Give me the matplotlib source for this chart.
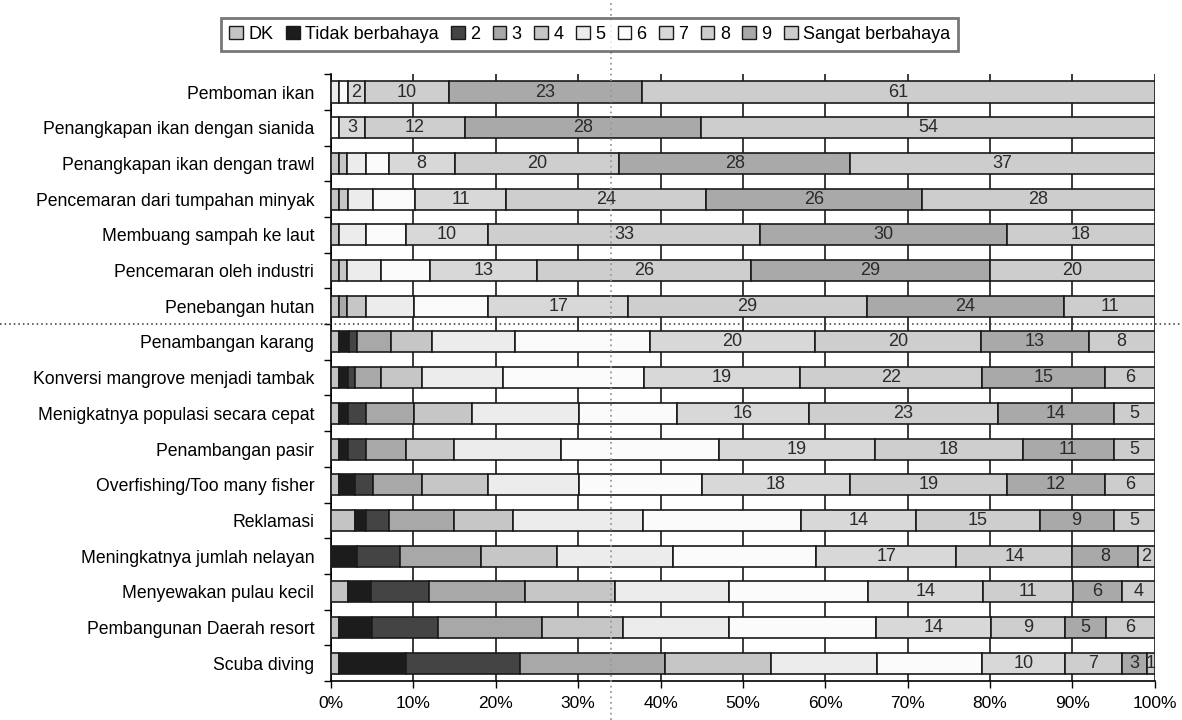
import matplotlib.pyplot as plt
import numpy as np
from matplotlib.lines import Line2D
from matplotlib.patches import Patch
import matplotlib.transforms as mtransforms

plt.rcParams['font.family'] = ['Liberation Sans', 'DejaVu Sans']

# Categories, top to bottom
categories = [
    'Pemboman ikan',
    'Penangkapan ikan dengan sianida',
    'Penangkapan ikan dengan trawl',
    'Pencemaran dari tumpahan minyak',
    'Membuang sampah ke laut',
    'Pencemaran oleh industri',
    'Penebangan hutan',
    'Penambangan karang',
    'Konversi mangrove menjadi tambak',
    'Menigkatnya populasi secara cepat',
    'Penambangan pasir',
    'Overfishing/Too many fisher',
    'Reklamasi',
    'Meningkatnya jumlah nelayan',
    'Menyewakan pulau kecil',
    'Pembangunan Daerah resort',
    'Scuba diving',
]

series_names = ['DK', 'Tidak berbahaya', '2', '3', '4', '5', '6', '7', '8', '9', 'Sangat berbahaya']

# Percent of respondents per answer
dk     = [0, 0, 1, 1, 1, 1, 1, 1, 1, 1, 1, 1, 2.9, 0, 2.1, 1, 1]
tidak  = [0, 0, 0, 0, 0, 0, 0, 1.2, 1.1, 1.1, 1.1, 1.9, 1.3, 3.1, 2.8, 4, 8.1]
s2     = [0, 0, 0, 0, 0, 0, 0, 0.9, 0.8, 2.1, 2.1, 2.2, 2.8, 5.2, 7.1, 8, 13.9]
s3     = [0, 0, 0, 0, 0, 0, 1, 4.1, 3.2, 5.9, 4.9, 5.9, 8, 9.9, 11.7, 12.7, 17.7]
s4     = [0, 0, 1, 1, 0, 1, 2.2, 5, 4.9, 7, 5.9, 8.1, 7.1, 9.1, 11, 9.9, 12.9]
s5     = [1, 0, 2.2, 3.1, 3.2, 4.1, 5.9, 10, 9.9, 13, 12.9, 11, 15.8, 14.1, 13.9, 13, 12.9]
s6     = [1, 1, 2.8, 5, 4.9, 5.9, 9, 16.3, 17, 11.9, 19.2, 14.9, 19.2, 17.3, 17, 17.9, 12.9]
s7     = [2, 3, 8, 11, 10, 13, 17, 20, 19, 16, 19, 18, 14, 17, 14, 14, 10]
s8     = [10, 12, 20, 24, 33, 26, 29, 20, 22, 23, 18, 19, 15, 14, 11, 9, 7]
s9     = [23, 28, 28, 26, 30, 29, 24, 13, 15, 14, 11, 12, 9, 8, 6, 5, 3]
sangat = [61, 54, 37, 28, 18, 20, 11, 8, 6, 5, 5, 6, 5, 2, 4, 6, 1]

all_series = [dk, tidak, s2, s3, s4, s5, s6, s7, s8, s9, sangat]
colors = ['#c4c4c4', '#1c1c1c', '#444444', '#a8a8a8', '#c6c6c6', '#ececec',
          '#fbfbfb', '#d8d8d8', '#cecece', '#a9a9a9', '#cdcdcd']
labelled = [False] * 7 + [True] * 4

data = np.array(all_series, dtype=float)
pct = data / data.sum(axis=0) * 100

fig = plt.figure(figsize=(11.82, 7.2), dpi=100)
ax = fig.add_axes([0.280, 0.054, 0.697, 0.843])

y = np.arange(len(categories))
left = np.zeros(len(categories))
for k in range(len(series_names)):
    ax.barh(y, pct[k], left=left, height=0.59, color=colors[k],
            edgecolor='#1a1a1a', linewidth=1.2, zorder=3)
    if labelled[k]:
        for i in range(len(categories)):
            if all_series[k][i] > 0:
                ax.text(left[i] + pct[k][i] / 2, y[i], str(int(all_series[k][i])),
                        ha='center', va='center', fontsize=13, color='#2a2a2a', zorder=4)
    left += pct[k]

ax.set_xlim(0, 100)
ax.set_ylim(len(categories) - 0.5, -0.5)
ax.set_xticks(np.arange(0, 101, 10))
ax.set_xticklabels([f'{v}%' for v in range(0, 101, 10)], fontsize=12.5)
ax.tick_params(axis='x', length=5, width=1, pad=6)
ax.set_yticks(y)
ax.set_yticklabels(categories, fontsize=12.7)
ax.tick_params(axis='y', length=0, pad=12)
ax.set_yticks(np.arange(-0.5, len(categories), 1), minor=True)
ax.tick_params(axis='y', which='minor', length=5, width=1)

ax.grid(axis='x', color='#1a1a1a', linewidth=1.2, zorder=0)
ax.set_axisbelow(True)
for s in ['top', 'right']:
    ax.spines[s].set_visible(False)
ax.spines['left'].set_linewidth(1.2)
ax.spines['bottom'].set_linewidth(1.2)

# dotted reference lines
trans_h = mtransforms.blended_transform_factory(fig.transFigure, ax.transData)
fig.add_artist(Line2D([0, 1], [6.5, 6.5], transform=trans_h, color='#333333',
                      linestyle=(0, (1, 2)), linewidth=1.1, zorder=5))
trans_v = mtransforms.blended_transform_factory(ax.transData, fig.transFigure)
fig.add_artist(Line2D([34, 34], [0, 1], transform=trans_v, color='#999999',
                      linestyle=(0, (1, 2)), linewidth=1.3, zorder=5))

handles = [Patch(facecolor=c, edgecolor='#1a1a1a', linewidth=1) for c in colors]
leg = fig.legend(handles, series_names, loc='center', bbox_to_anchor=(0.499, 0.952),
                 ncol=11, fontsize=13, frameon=True, fancybox=False,
                 handlelength=0.75, handleheight=0.75, handletextpad=0.3,
                 columnspacing=0.7, borderpad=0.45)
leg.get_frame().set_edgecolor('#555555')
leg.get_frame().set_linewidth(2)

fig.savefig('out.png', dpi=100)
